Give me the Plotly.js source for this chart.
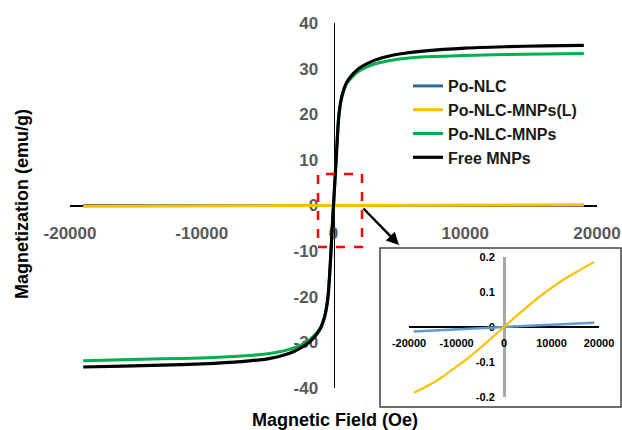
<!DOCTYPE html>
<html>
<head>
<meta charset="utf-8">
<script src="https://cdn.plot.ly/plotly-3.0.1.min.js"></script>
<style>html,body{margin:0;padding:0;background:#fff;}#chart{width:622px;height:430px;}</style>
</head>
<body>
<div id="chart"></div>
<script>
// ---- data ----
const seriesNames = ["Po-NLC", "Po-NLC-MNPs(L)", "Po-NLC-MNPs", "Free MNPs"];

const fieldMain = [-19000, -16000, -13000, -10000, -7000, -5000, -4000, -3000, -2000, -1500, -1000, -800, -600, -400, -200, -100, 0,
                   100, 200, 400, 600, 800, 1000, 1500, 2000, 3000, 4000, 5000, 7000, 10000, 13000, 16000, 19000];
const freeMNPs   = [-35.4, -35.2, -35.0, -34.7, -34.2, -33.6, -33.0, -32.0, -30.3, -29.0, -27.0, -25.6, -23.5, -19.5, -10.5, -5.0, 0,
                    5.0, 10.0, 19.5, 23.5, 25.6, 27.0, 28.9, 30.2, 31.7, 32.6, 33.2, 33.9, 34.5, 34.8, 35.0, 35.1];
const poNlcMNPs  = [-34.0, -33.8, -33.6, -33.4, -33.0, -32.5, -32.0, -31.2, -29.8, -28.6, -26.8, -25.5, -23.4, -19.6, -10.6, -5.1, 0,
                    5.1, 10.4, 19.6, 23.4, 25.4, 26.7, 28.4, 29.6, 30.9, 31.6, 32.1, 32.6, 32.9, 33.1, 33.2, 33.3];

const fieldLow   = [-19000, -15000, -12500, -10000, -7500, -5000, -2500, 0, 2500, 5000, 7500, 10000, 12500, 15000, 19000];
const poNlcMNPsL = [-0.188, -0.160, -0.138, -0.113, -0.088, -0.060, -0.030, 0, 0.030, 0.059, 0.087, 0.112, 0.135, 0.155, 0.186];
const poNlc      = [-0.013, -0.010, -0.0085, -0.007, -0.005, -0.0035, -0.002, 0, 0.002, 0.0035, 0.005, 0.0065, 0.008, 0.0095, 0.012];

const xTicks     = [-20000, -10000, 0, 10000, 20000];
const xTickText  = ["-20000", "-10000", "0", "10000", "20000"];
const yTicks     = [-40, -30, -20, -10, 0, 10, 20, 30, 40];
const yTickText  = ["-40", "-30", "-20", "-10", "0", "10", "20", "30", "40"];
const yTicksInset    = [-0.2, -0.1, 0, 0.1, 0.2];
const yTickTextInset = ["-0.2", "-0.1", "0", "0.1", "0.2"];

const W = 622, H = 430;
const px = v => v / W;
const py = v => 1 - v / H;

const colBlue = "#2F6B9A", colYellow = "#FFC000", colGreen = "#00B050", colBlack = "#000000";

const traces = [
  {x: fieldLow, y: poNlc, name: seriesNames[0], type: "scatter", mode: "lines", line: {color: colBlue, width: 3}, xaxis: "x", yaxis: "y"},
  {x: fieldLow, y: poNlcMNPsL, name: seriesNames[1], type: "scatter", mode: "lines", line: {color: colYellow, width: 3}, xaxis: "x", yaxis: "y"},
  {x: fieldMain, y: poNlcMNPs, name: seriesNames[2], type: "scatter", mode: "lines", line: {color: colGreen, width: 3, shape: "spline", smoothing: 0.6}, xaxis: "x", yaxis: "y"},
  {x: fieldMain, y: freeMNPs, name: seriesNames[3], type: "scatter", mode: "lines", line: {color: colBlack, width: 3.2, shape: "spline", smoothing: 0.6}, xaxis: "x", yaxis: "y"},
  // inset
  {x: fieldLow, y: poNlc, name: seriesNames[0], showlegend: false, type: "scatter", mode: "lines", line: {color: "#5B9BD5", width: 2.5}, xaxis: "x2", yaxis: "y2"},
  {x: fieldLow, y: poNlcMNPsL, name: seriesNames[1], showlegend: false, type: "scatter", mode: "lines", line: {color: colYellow, width: 2.2, shape: "spline"}, xaxis: "x2", yaxis: "y2"}
];

const tickFontMain = {family: "Liberation Sans, Arial, sans-serif", size: 17, color: "#595959", weight: "bold"};
const tickFontInset = {family: "Liberation Sans, Arial, sans-serif", size: 11, color: "#000000", weight: "bold"};

const layout = {
  width: W, height: H,
  margin: {l: 0, r: 0, t: 0, b: 0, pad: 0},
  paper_bgcolor: "#ffffff", plot_bgcolor: "rgba(0,0,0,0)",
  showlegend: true,
  legend: {
    x: px(408), y: py(69), xanchor: "left", yanchor: "top",
    bgcolor: "rgba(0,0,0,0)", borderwidth: 0, tracegroupgap: 0,
    font: {family: "Liberation Sans, Arial, sans-serif", size: 16, color: "#1a1a1a", weight: "bold"}
  },
  xaxis: {
    domain: [px(70), px(597)], range: [-20000, 20000],
    anchor: "free", position: py(205),
    showgrid: false, zeroline: false, showline: true, linecolor: "#000", linewidth: 1.5,
    tickvals: xTicks, ticktext: xTickText, ticks: "", ticklabelstandoff: 12, tickfont: tickFontMain,
    layer: "below traces", fixedrange: true
  },
  yaxis: {
    domain: [py(388), py(23)], range: [-40, 40],
    anchor: "free", position: px(333.5),
    showgrid: false, zeroline: false, showline: true, linecolor: "#000", linewidth: 1.5,
    tickvals: yTicks, ticktext: yTickText, ticks: "", ticklabelstandoff: 12, tickfont: tickFontMain,
    layer: "below traces", fixedrange: true
  },
  xaxis2: {
    domain: [px(409), px(599)], range: [-20000, 20000],
    anchor: "free", position: py(327),
    showgrid: false, zeroline: false, showline: true, linecolor: "#000", linewidth: 2,
    tickvals: xTicks, ticktext: xTickText, ticks: "", ticklabelstandoff: 6, tickfont: tickFontInset,
    layer: "below traces", fixedrange: true
  },
  yaxis2: {
    domain: [py(397), py(257)], range: [-0.2, 0.2],
    anchor: "free", position: px(504),
    showgrid: false, zeroline: false, showline: true, linecolor: "#A6A6A6", linewidth: 2.5,
    tickvals: yTicksInset, ticktext: yTickTextInset, ticks: "", ticklabelstandoff: 6, tickfont: tickFontInset,
    layer: "below traces", fixedrange: true
  },
  shapes: [
    {type: "rect", xref: "paper", yref: "paper", x0: px(380), x1: px(621), y0: py(407), y1: py(248),
     line: {color: "#404040", width: 1.5}, fillcolor: "#ffffff", layer: "below"},
    {type: "rect", xref: "paper", yref: "paper", x0: px(318), x1: px(362), y0: py(247), y1: py(174),
     line: {color: "#FF0000", width: 2.5, dash: "dash"}, fillcolor: "rgba(0,0,0,0)", layer: "above"}
  ],
  annotations: [
    {xref: "paper", yref: "paper", x: px(399), y: py(245), text: "", showarrow: true,
     ax: -37, ay: -38, arrowhead: 2, arrowsize: 1, arrowwidth: 2.5, arrowcolor: "#000"},
    {xref: "paper", yref: "paper", x: px(335), y: py(420), text: "Magnetic Field (Oe)", showarrow: false,
     xanchor: "center", yanchor: "middle",
     font: {family: "Liberation Sans, Arial, sans-serif", size: 18, color: "#000", weight: "bold"}},
    {xref: "paper", yref: "paper", x: px(22), y: py(204), text: "Magnetization (emu/g)", showarrow: false,
     textangle: -90, xanchor: "center", yanchor: "middle",
     font: {family: "Liberation Sans, Arial, sans-serif", size: 18, color: "#000", weight: "bold"}}
  ]
};

Plotly.newPlot("chart", traces, layout, {displayModeBar: false, staticPlot: true});
</script>
</body>
</html>
